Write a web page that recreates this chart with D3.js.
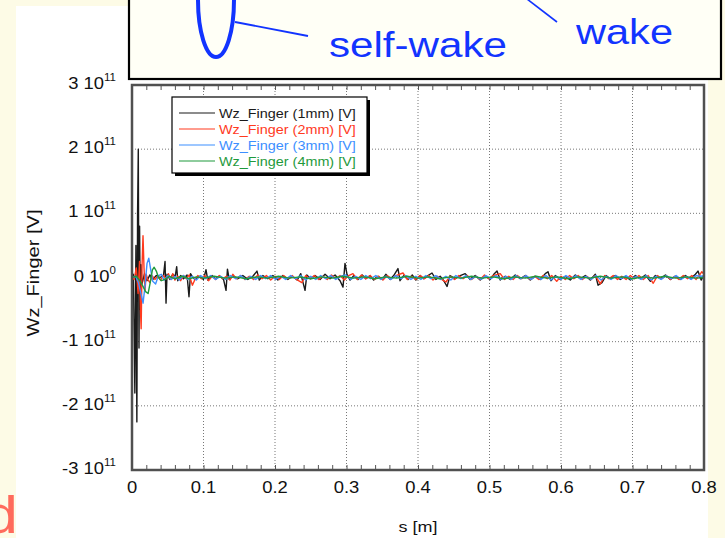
<!DOCTYPE html>
<html><head><meta charset="utf-8">
<script src="https://cdn.jsdelivr.net/npm/d3@7"></script>
<style>body{margin:0;background:#fdfbe6;}svg{display:block;font-family:"Liberation Sans",Arial,sans-serif;}</style>
</head><body>
<svg id="c" width="725" height="538"></svg>
<script>
// ---- data (values in units of 1e10 V, s in metres) ----
const seriesNames = ["Wz_Finger (1mm) [V]","Wz_Finger (2mm) [V]","Wz_Finger (3mm) [V]","Wz_Finger (4mm) [V]"];
const seriesColors = ["#1a1a1a","#ff3a1e","#3d8fff","#1f9a3c"];
const yTickValues = [3,2,1,0,-1,-2,-3];
const yTickMantissa = ["3","2","1","0","-1","-2","-3"];
const yTickExponent = ["11","11","11","0","11","11","11"];
const xTickValues = [0,0.1,0.2,0.3,0.4,0.5,0.6,0.7,0.8];
const xTickLabels = ["0","0.1","0.2","0.3","0.4","0.5","0.6","0.7","0.8"];

const wz1mm = [[0,0],[0.002,0.5],[0.004,-18],[0.0055,5],[0.0068,-22.5],[0.0078,10],[0.0088,20],[0.0098,-11],[0.0106,8],[0.0116,-5],[0.0126,2],[0.014,-1],[0.0175,0.6],[0.021,-0.5],[0.025,0.4],[0.029,-0.3],[0.034,0.3],[0.039,0],[0.044,0.3],[0.0462,2.5],[0.0476,-4],[0.049,0.5],[0.053,-0.3],[0.057,0.5],[0.0605,0.2],[0.0625,1.7],[0.064,-0.5],[0.068,0.3],[0.072,-0.2],[0.077,0.4],[0.0797,-3],[0.0818,0.6],[0.084,0.2],[0.088,-0.3],[0.094,0.2],[0.1,-0.3],[0.1035,1.2],[0.106,-0.4],[0.112,0.3],[0.117,-0.2],[0.123,0.2],[0.128,-0.3],[0.1315,-2],[0.1335,1.3],[0.136,-0.3],[0.141,0.2],[0.148,-0.2],[0.155,0.3],[0.162,-0.3],[0.169,0.2],[0.1748,1.0],[0.178,-0.4],[0.183,0.3],[0.190,-0.2],[0.197,0.3],[0.204,-0.4],[0.211,0.3],[0.218,-0.3],[0.224,0.2],[0.231,-0.4],[0.236,0.6],[0.2420,-2],[0.2445,0.4],[0.250,-0.2],[0.256,0.3],[0.263,-0.3],[0.270,0.5],[0.277,-0.2],[0.284,0.4],[0.291,-0.5],[0.2951,-1.5],[0.2979,2.2],[0.3007,0.5],[0.305,-0.4],[0.310,0.3],[0.316,-0.3],[0.322,0.4],[0.327,-0.2],[0.333,0.3],[0.338,-0.4],[0.344,0.2],[0.350,-0.3],[0.355,0.5],[0.361,-0.3],[0.366,0.3],[0.3720,1.4],[0.3748,-0.5],[0.380,0.3],[0.386,-0.3],[0.392,0.4],[0.397,-0.4],[0.403,0.3],[0.408,-0.2],[0.414,0.3],[0.4196,0.7],[0.425,-0.3],[0.431,0.2],[0.436,-0.5],[0.4406,-1.4],[0.4448,0.3],[0.452,-0.2],[0.459,0.3],[0.466,0.6],[0.473,-0.3],[0.480,0.3],[0.487,-0.4],[0.494,0.2],[0.501,-0.3],[0.506,0.5],[0.5105,1.0],[0.515,-0.4],[0.522,0.2],[0.529,-0.3],[0.536,0.4],[0.543,-0.2],[0.550,0.3],[0.557,-0.4],[0.564,0.2],[0.571,-0.3],[0.578,0.6],[0.5818,0.9],[0.586,-0.5],[0.592,0.3],[0.599,-0.3],[0.606,0.2],[0.613,-0.4],[0.620,0.4],[0.627,-0.2],[0.634,0.3],[0.641,-0.4],[0.648,0.5],[0.6518,-1.2],[0.6573,-0.8],[0.663,0.3],[0.669,-0.2],[0.676,0.3],[0.683,-0.3],[0.690,0.2],[0.697,-0.4],[0.704,0.3],[0.711,-0.2],[0.718,0.4],[0.725,-0.6],[0.732,0.3],[0.739,-0.2],[0.746,0.4],[0.753,-0.3],[0.760,0.2],[0.767,-0.3],[0.774,0.3],[0.781,-0.2],[0.788,0.5],[0.7916,1.0],[0.796,-0.4],[0.8,0.4]];

const wz2mm = [[0,0],[0.003,-0.3],[0.006,1.5],[0.0085,-2.5],[0.0105,2.5],[0.0118,-5],[0.0128,-8],[0.0141,2],[0.0154,6.5],[0.0168,1.5],[0.0182,-2],[0.0198,0.5],[0.022,-0.3],[0.025,-0.8],[0.028,0.3],[0.032,-0.3],[0.036,0.2],[0.040,-0.4],[0.044,0.3],[0.048,-0.2],[0.051,0.6],[0.054,-0.3],[0.057,0.6],[0.060,-0.4],[0.064,0.2],[0.068,-0.5],[0.072,0.3],[0.076,-0.2],[0.080,0.4],[0.0845,-1.2],[0.088,-0.3],[0.092,0.3],[0.097,-0.2],[0.102,0.3],[0.107,-0.5],[0.112,0.2],[0.117,-0.3],[0.122,0.3],[0.127,-0.2],[0.132,0.2],[0.137,-0.4],[0.141,0.5],[0.146,-0.2],[0.152,0.3],[0.158,-0.3],[0.164,0.2],[0.170,-0.3],[0.176,0.4],[0.182,-0.2],[0.188,0.3],[0.194,-0.4],[0.200,0.2],[0.206,-0.3],[0.212,0.3],[0.218,-0.2],[0.224,0.3],[0.230,-0.3],[0.2375,-0.8],[0.243,0.3],[0.249,-0.2],[0.255,0.3],[0.261,-0.3],[0.267,0.2],[0.273,-0.3],[0.279,0.4],[0.285,-0.2],[0.291,0.3],[0.297,-0.4],[0.303,0.3],[0.309,0.6],[0.315,-0.3],[0.321,0.4],[0.327,-0.2],[0.333,0.3],[0.339,-0.3],[0.345,0.2],[0.351,-0.4],[0.357,0.3],[0.363,-0.2],[0.369,0.3],[0.3790,0.7],[0.385,-0.3],[0.391,0.2],[0.397,-0.3],[0.403,0.3],[0.409,-0.2],[0.415,0.3],[0.421,-0.4],[0.427,0.2],[0.433,-0.3],[0.439,-0.7],[0.445,0.2],[0.451,-0.3],[0.457,0.3],[0.463,-0.2],[0.469,0.3],[0.475,-0.3],[0.481,0.2],[0.487,-0.3],[0.493,0.4],[0.499,-0.2],[0.505,0.3],[0.515,0.6],[0.521,-0.3],[0.527,0.2],[0.533,-0.3],[0.539,0.3],[0.545,-0.2],[0.551,0.3],[0.557,-0.3],[0.563,0.2],[0.569,-0.3],[0.575,0.3],[0.581,-0.2],[0.587,0.3],[0.594,-0.6],[0.600,0.2],[0.606,-0.3],[0.612,0.3],[0.618,-0.2],[0.624,0.3],[0.630,-0.3],[0.636,0.2],[0.642,-0.3],[0.648,0.3],[0.655,-1.0],[0.661,0.3],[0.667,-0.2],[0.673,0.3],[0.679,-0.3],[0.685,0.2],[0.691,-0.3],[0.697,0.3],[0.703,-0.2],[0.709,0.3],[0.715,-0.3],[0.722,0.3],[0.729,-0.9],[0.735,0.3],[0.741,-0.2],[0.747,0.3],[0.753,-0.3],[0.759,0.2],[0.765,-0.3],[0.771,0.3],[0.777,-0.2],[0.783,0.3],[0.789,-0.3],[0.794,0.4],[0.797,0.9],[0.8,0.5]];

const wz3mm = [[0,0],[0.005,0.2],[0.009,-0.8],[0.0125,-2.5],[0.0155,-4],[0.0185,-1],[0.021,2.2],[0.0235,3],[0.0265,1],[0.029,-0.6],[0.033,-1],[0.037,0.3],[0.041,0.5],[0.045,-0.4],[0.050,0.3],[0.055,-0.3],[0.060,0.2],[0.066,-0.4],[0.072,0.3],[0.078,-0.3],[0.084,0.2],[0.090,-0.4],[0.096,0.3],[0.103,-0.2],[0.110,0.3],[0.117,-0.3],[0.124,0.2],[0.131,-0.3],[0.138,0.3],[0.145,-0.2],[0.152,0.3],[0.159,-0.3],[0.166,0.2],[0.173,-0.3],[0.180,0.3],[0.187,-0.2],[0.194,0.3],[0.201,-0.3],[0.208,0.2],[0.215,-0.3],[0.222,0.3],[0.229,-0.2],[0.236,0.3],[0.243,-0.4],[0.250,0.2],[0.257,-0.3],[0.264,0.3],[0.271,-0.2],[0.278,0.3],[0.285,-0.3],[0.292,0.2],[0.299,0.4],[0.306,-0.3],[0.313,0.2],[0.320,-0.3],[0.327,0.3],[0.334,-0.2],[0.341,0.3],[0.348,-0.3],[0.355,0.2],[0.362,-0.3],[0.369,0.3],[0.376,-0.2],[0.383,0.3],[0.390,-0.3],[0.397,0.2],[0.404,-0.3],[0.411,0.3],[0.418,-0.2],[0.425,0.3],[0.432,-0.3],[0.439,0.2],[0.446,-0.4],[0.453,0.3],[0.460,-0.2],[0.467,0.3],[0.474,-0.3],[0.481,0.2],[0.488,-0.3],[0.495,0.3],[0.502,-0.2],[0.509,0.3],[0.516,-0.3],[0.523,0.2],[0.530,-0.3],[0.537,0.3],[0.544,-0.2],[0.551,0.3],[0.558,-0.3],[0.565,0.2],[0.572,-0.3],[0.579,0.3],[0.586,-0.4],[0.593,0.2],[0.600,-0.3],[0.607,0.3],[0.614,-0.2],[0.621,0.3],[0.628,-0.3],[0.635,0.2],[0.642,-0.3],[0.649,0.3],[0.656,-0.4],[0.663,0.2],[0.670,-0.3],[0.677,0.3],[0.684,-0.2],[0.691,0.3],[0.698,-0.3],[0.705,0.2],[0.712,-0.3],[0.719,0.3],[0.726,-0.4],[0.733,0.2],[0.740,-0.3],[0.747,0.3],[0.754,-0.2],[0.761,0.3],[0.768,-0.3],[0.775,0.2],[0.782,-0.3],[0.789,0.3],[0.796,0.2],[0.8,0.3]];

const wz4mm = [[0,0],[0.006,0.2],[0.011,-0.5],[0.015,-1.3],[0.019,-2.2],[0.0225,-2.5],[0.026,-0.5],[0.0285,1.2],[0.031,1.6],[0.034,1.0],[0.037,0],[0.041,-0.5],[0.046,-0.3],[0.052,0.2],[0.060,-0.2],[0.070,0.2],[0.080,-0.2],[0.090,0.1],[0.100,-0.1],[0.115,0.2],[0.130,-0.1],[0.145,0.1],[0.160,-0.2],[0.175,0.1],[0.190,-0.1],[0.205,0.2],[0.220,-0.1],[0.235,0.1],[0.250,-0.2],[0.265,0.1],[0.280,-0.1],[0.295,0.2],[0.310,-0.1],[0.325,0.1],[0.340,-0.2],[0.355,0.1],[0.370,-0.1],[0.385,0.2],[0.400,-0.1],[0.415,0.1],[0.430,-0.2],[0.445,0.1],[0.460,-0.1],[0.475,0.2],[0.490,-0.1],[0.505,0.1],[0.520,-0.2],[0.535,0.1],[0.550,-0.1],[0.565,0.2],[0.580,-0.1],[0.595,0.1],[0.610,-0.2],[0.625,0.1],[0.640,-0.1],[0.655,0.2],[0.670,-0.1],[0.685,0.1],[0.700,-0.2],[0.715,0.1],[0.730,-0.1],[0.745,0.2],[0.760,-0.1],[0.775,0.1],[0.790,-0.1],[0.8,0]];

const allSeries = [wz1mm, wz2mm, wz3mm, wz4mm];

// ---- drawing ----
const svg = d3.select("#c");
const L = 132, R = 704, T = 85, B = 470;
const x = d3.scaleLinear().domain([0, 0.8]).range([L, R]);
const y = d3.scaleLinear().domain([-30, 30]).range([B, T]); // 1e10 units

svg.append("rect").attr("width",725).attr("height",538).attr("fill","#fdfbe6");
svg.append("rect").attr("x",16).attr("y",6).attr("width",692).attr("height",532).attr("fill","#ffffff");

// red letter at bottom-left (partly outside the slide, as in the reference)
svg.append("text").attr("transform","translate(18,533) scale(1.2,1)")
  .attr("text-anchor","end").attr("font-size",52).attr("fill","#ff6b5c").text("d");

// top annotation box
const blue = "#1234ff";
svg.append("rect").attr("x",129).attr("y",-6).attr("width",592).attr("height",85)
  .attr("fill","#fffff6").attr("stroke","#000").attr("stroke-width",2.2);
svg.append("ellipse").attr("cx",216).attr("cy",0).attr("rx",18).attr("ry",57)
  .attr("fill","none").attr("stroke",blue).attr("stroke-width",4);
svg.append("line").attr("x1",235).attr("y1",22).attr("x2",308).attr("y2",36)
  .attr("stroke",blue).attr("stroke-width",1.8);
svg.append("line").attr("x1",527).attr("y1",-1).attr("x2",557).attr("y2",22)
  .attr("stroke",blue).attr("stroke-width",1.6);
svg.append("text").attr("x",329).attr("y",57).attr("font-size",35).attr("fill",blue)
  .attr("textLength",178).attr("lengthAdjust","spacingAndGlyphs").text("self-wake");
svg.append("text").attr("x",576).attr("y",44).attr("font-size",35).attr("fill",blue)
  .attr("textLength",97).attr("lengthAdjust","spacingAndGlyphs").text("wake");

// plot frame background
svg.append("rect").attr("x",L).attr("y",T).attr("width",R-L).attr("height",B-T).attr("fill","#fff");

// grid
const grid = svg.append("g").attr("stroke","#777").attr("stroke-width",1).attr("stroke-dasharray","1,2");
grid.selectAll("line.v").data(xTickValues.slice(1,-1)).join("line")
  .attr("x1",d=>x(d)).attr("x2",d=>x(d)).attr("y1",T).attr("y2",B);
grid.selectAll("line.h").data(yTickValues.slice(1,-1)).join("line")
  .attr("y1",d=>y(d*10)).attr("y2",d=>y(d*10)).attr("x1",L).attr("x2",R);

// minor ticks top/bottom via axes
const minor = d3.range(0, 0.8001, 0.02);
svg.append("g").attr("transform",`translate(0,${B})`)
  .call(d3.axisBottom(x).tickValues(minor).tickSize(-5).tickFormat(""))
  .call(g=>{g.select(".domain").remove(); g.selectAll("line").attr("stroke","#555");});
svg.append("g").attr("transform",`translate(0,${T})`)
  .call(d3.axisTop(x).tickValues(minor).tickSize(-5).tickFormat(""))
  .call(g=>{g.select(".domain").remove(); g.selectAll("line").attr("stroke","#555");});

// data lines
svg.append("clipPath").attr("id","clip").append("rect").attr("x",L).attr("y",T).attr("width",R-L).attr("height",B-T);
const line = d3.line().x(d=>x(d[0])).y(d=>y(d[1]));
const lines = svg.append("g").attr("clip-path","url(#clip)");
allSeries.forEach((s,i)=>{
  lines.append("path").attr("d",line(s)).attr("fill","none")
    .attr("stroke",seriesColors[i]).attr("stroke-width",1.4).attr("stroke-linejoin","round");
});

// frame
svg.append("rect").attr("x",L).attr("y",T).attr("width",R-L).attr("height",B-T)
  .attr("fill","none").attr("stroke","#505050").attr("stroke-width",2.5);

// x tick labels
const xa = svg.append("g").attr("transform",`translate(0,${B})`)
  .call(d3.axisBottom(x).tickValues(xTickValues).tickSize(0).tickPadding(0).tickFormat((d,i)=>xTickLabels[i]));
xa.select(".domain").remove();
xa.selectAll(".tick").each(function(d){
  const g=d3.select(this);
  g.attr("transform",`translate(${x(d)},0) scale(1.15,1)`);
  g.select("text").attr("dy",null).attr("y",23).attr("font-size",16).attr("fill","#111")
    .attr("font-family","Liberation Sans, Arial, sans-serif");
});

// y tick labels
const ya = svg.append("g").attr("transform",`translate(116,0)`)
  .call(d3.axisLeft(y).tickValues(yTickValues.map(v=>v*10)).tickSize(0).tickPadding(0).tickFormat(""));
ya.select(".domain").remove();
ya.selectAll(".tick").each(function(d,i){
  const g=d3.select(this);
  g.attr("transform",`translate(0,${y(d)}) scale(1.15,1)`);
  const t=g.select("text").attr("dy",null).attr("x",0).attr("y",4).attr("font-size",16)
    .attr("fill","#111").attr("text-anchor","end").attr("font-family","Liberation Sans, Arial, sans-serif");
  t.text(null);
  t.append("tspan").text(yTickMantissa[i]+" 10");
  t.append("tspan").attr("dy",-8).attr("font-size",10).text(yTickExponent[i]);
});

// axis titles
svg.append("text").attr("transform","translate(418,532) scale(1.2,1)").attr("text-anchor","middle")
  .attr("font-size",15).attr("fill","#111").text("s [m]");
svg.append("text").attr("transform","translate(39,273) rotate(-90)").attr("text-anchor","middle")
  .attr("font-size",17).attr("fill","#111").attr("textLength",127).attr("lengthAdjust","spacingAndGlyphs")
  .text("Wz_Finger  [V]");

// legend
svg.append("rect").attr("x",175).attr("y",100).attr("width",195).attr("height",76).attr("fill","#000");
svg.append("rect").attr("x",172).attr("y",97).attr("width",195).attr("height",76)
  .attr("fill","#fff").attr("stroke","#000").attr("stroke-width",1.2);
seriesNames.forEach((n,i)=>{
  const yy = 113 + i*16;
  svg.append("line").attr("x1",179).attr("x2",215).attr("y1",yy).attr("y2",yy)
    .attr("stroke",seriesColors[i]).attr("stroke-width",1.2);
  svg.append("text").attr("transform",`translate(219,${yy+4.5}) scale(1.2,1)`)
    .attr("font-size",12).attr("fill",seriesColors[i]).text(n);
});
</script>
</body></html>
